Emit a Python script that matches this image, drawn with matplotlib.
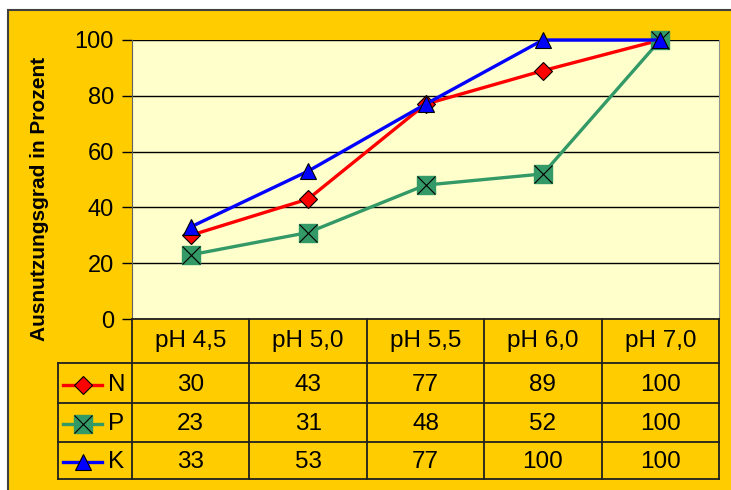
import numpy as np
import matplotlib.pyplot as plt
from matplotlib.patches import Rectangle
from matplotlib.lines import Line2D

plt.rcParams['font.family'] = ['Liberation Sans', 'DejaVu Sans']

# Daten
kategorien = ["pH 4,5", "pH 5,0", "pH 5,5", "pH 6,0", "pH 7,0"]
n_werte = [30, 43, 77, 89, 100]
p_werte = [23, 31, 48, 52, 100]
k_werte = [33, 53, 77, 100, 100]
yticks = [0, 20, 40, 60, 80, 100]
ylabel = "Ausnutzungsgrad in Prozent"

GOLD = "#FFCC00"
HELL = "#FFFFCC"
ROT = "#FF0000"
GRUEN = "#339966"
BLAU = "#0000FF"

W, H = 731, 490
fig = plt.figure(figsize=(W / 100, H / 100), dpi=100, facecolor="white")


def px(x0, y0, x1, y1):
    # pixel box (top-left origin) -> figure rect
    return [x0 / W, 1 - y1 / H, (x1 - x0) / W, (y1 - y0) / H]


# goldener Hintergrund mit Rahmen
fig.patches.append(Rectangle((8 / W, -0.1), 1.2, 1 - 10 / H + 0.1,
                             transform=fig.transFigure, facecolor=GOLD,
                             edgecolor="#404040", lw=1.5, zorder=-10))

ax = fig.add_axes(px(132, 40, 719, 319))
ax.set_facecolor(HELL)
x = np.arange(len(kategorien))

ax.plot(x, n_werte, color=ROT, lw=2.4, marker="D", ms=9.5, mfc=ROT,
        mec="black", mew=0.8, clip_on=False, zorder=3)
ax.plot(x, p_werte, color=GRUEN, lw=2.4, marker="s", ms=12.5, mfc=GRUEN,
        mec=GRUEN, clip_on=False, zorder=4)
ax.plot(x, p_werte, ls="none", marker="x", ms=12.5, mec="black", mew=0.8,
        clip_on=False, zorder=4)
ax.plot(x, k_werte, color=BLAU, lw=2.4, marker="^", ms=11.5, mfc=BLAU,
        mec="black", mew=0.8, clip_on=False, zorder=5)

ax.set_xlim(-0.5, len(kategorien) - 0.5)
ax.set_ylim(0, 100)
ax.set_yticks(yticks)
ax.set_xticks([])
ax.yaxis.grid(True, color="black", lw=1)
ax.set_axisbelow(True)
ax.tick_params(axis="y", length=7, width=1, pad=6, labelsize=17)
for s in ["top", "bottom"]:
    ax.spines[s].set_visible(False)
ax.spines["left"].set_color("#606060")
ax.spines["right"].set_color("#909090")

fig.text(40 / W, 1 - 199 / H, ylabel, rotation=90, ha="center", va="center",
         fontsize=15, fontweight="bold")

# Datentabelle
tab = fig.add_axes(px(50, 315, 725, 485))
tab.set_xlim(50, 725)
tab.set_ylim(485, 315)
tab.axis("off")

spalten = np.linspace(132, 719, len(kategorien) + 1)
zeilen = [319, 363, 403, 442, 479]
lc = "#202020"
for xs in spalten:
    tab.plot([xs, xs], [319, 479], color=lc, lw=1.3)
tab.plot([132, 719], [319, 319], color=lc, lw=1.3)
for ys in zeilen[1:]:
    tab.plot([58, 719], [ys, ys], color=lc, lw=1.3)
tab.plot([58, 58], [363, 479], color=lc, lw=1.3)

mitten = (spalten[:-1] + spalten[1:]) / 2
for i, k in enumerate(kategorien):
    tab.text(mitten[i], (zeilen[0] + zeilen[1]) / 2, k, ha="center",
             va="center", fontsize=17.5)

reihen = [("N", n_werte, dict(color=ROT, marker="D", ms=9.5, mfc=ROT, mec="black", mew=0.8)),
          ("P", p_werte, dict(color=GRUEN, marker="s", ms=12.5, mfc=GRUEN, mec=GRUEN)),
          ("K", k_werte, dict(color=BLAU, marker="^", ms=11.5, mfc=BLAU, mec="black", mew=0.8))]
for r, (name, werte, stil) in enumerate(reihen):
    yc = (zeilen[r + 1] + zeilen[r + 2]) / 2 + 1.5
    tab.add_line(Line2D([63, 102], [yc, yc], lw=2.4, color=stil["color"]))
    tab.plot([82.5], [yc], ls="none", **{k: v for k, v in stil.items() if k != "color"})
    if name == "P":
        tab.plot([82.5], [yc], ls="none", marker="x", ms=12.5, mec="black", mew=0.8)
    tab.text(108, yc, name, ha="left", va="center", fontsize=17.5)
    for i, v in enumerate(werte):
        tab.text(mitten[i], yc, str(v), ha="center", va="center", fontsize=17.5)

fig.savefig("out.png", dpi=100)
